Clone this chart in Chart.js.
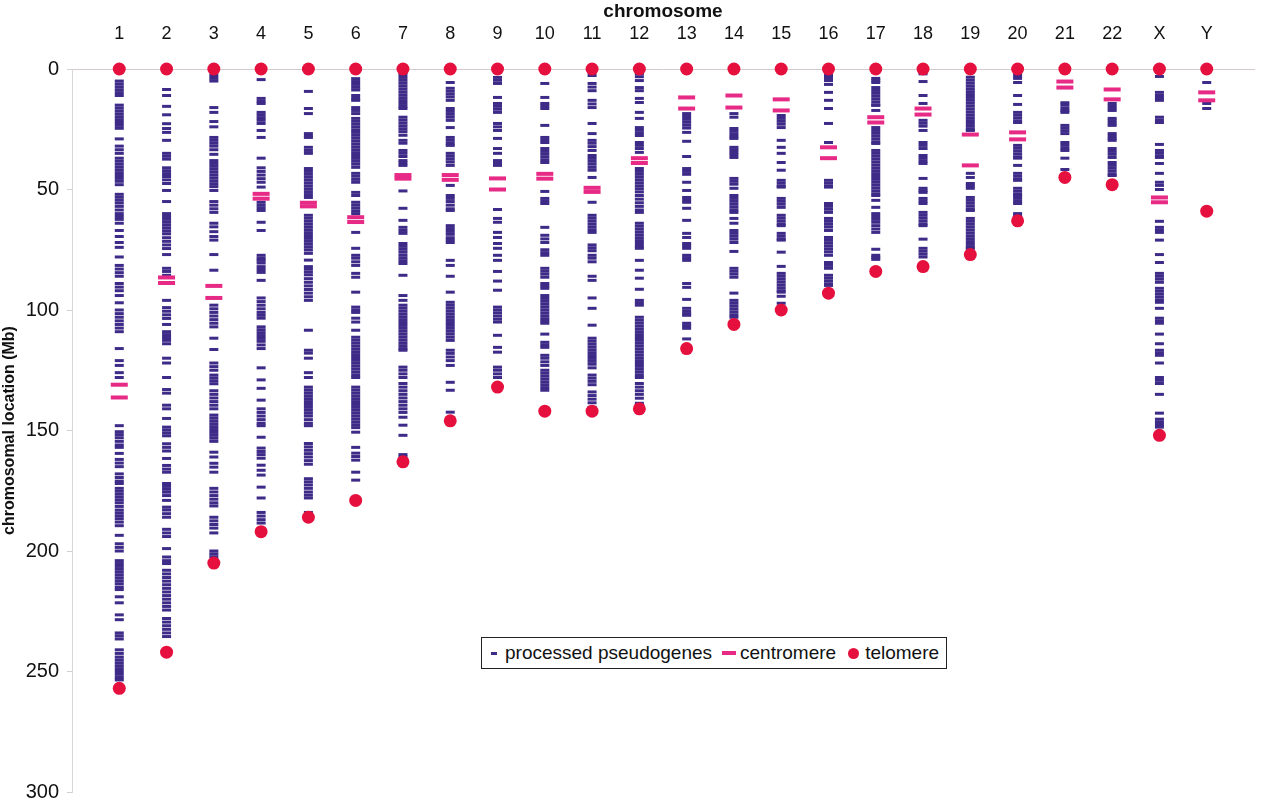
<!DOCTYPE html>
<html>
<head>
<meta charset="utf-8">
<script src="https://cdn.jsdelivr.net/npm/chart.js@4.4.1/dist/chart.umd.min.js"></script>
<style>
  html, body { margin: 0; padding: 0; background: #fff; }
  #wrap { position: relative; width: 1280px; height: 800px; }
  #legend {
    position: absolute; left: 481px; top: 637px; width: 466px; height: 32px;
    border: 1px solid #222; background: #fff; box-sizing: border-box;
    font-family: "Liberation Sans", Arial, sans-serif; font-size: 19px; color: #111;
    display: flex; align-items: center; padding-left: 9px; white-space: nowrap;
  }
  #legend .item { display: flex; align-items: center; }
  .m-pseudo { width: 6px; height: 3px; background: #3d2b87; margin-right: 8px; }
  .m-centro { width: 14px; height: 4px; background: #e62a85; margin: 0 4px 0 10px; }
  .m-telo { width: 11px; height: 11px; border-radius: 50%; background: #e5103d; margin: 0 6px 0 12px; }
</style>
</head>
<body>
<div id="wrap">
  <canvas id="chart" width="1280" height="800"></canvas>
  <div id="legend">
    <span class="item"><span class="m-pseudo"></span>processed pseudogenes</span>
    <span class="item"><span class="m-centro"></span>centromere</span>
    <span class="item"><span class="m-telo"></span>telomere</span>
  </div>
</div>
<script>
// chromosome labels along the top axis
const chromosomes = ['1', '2', '3', '4', '5', '6', '7', '8', '9', '10', '11', '12',
    '13', '14', '15', '16', '17', '18', '19', '20', '21', '22', 'X', 'Y'];

// chromosome ends (Mb), telomere drawn at 0 and here
const chrEnds = [257, 242, 205, 192, 186, 179, 163, 146, 132, 142, 142, 141,
    116, 106, 100, 93, 84, 82, 77, 63, 45, 48, 152, 59];

// centromere bars (two per chromosome)
const centroUpper = [131, 86.5, 90, 51.8, 55.5, 61.5, 44, 44, 45.4, 43.5, 49.3, 37,
    11.8, 11, 12.6, 32.5, 20, 16.4, 27.2, 26.3, 5.2, 8.5, 53.3, 9.7];
const centroLower = [136.3, 88.8, 95, 53.8, 57, 63.5, 45.5, 46, 50, 45.5, 51, 39,
    16.4, 16, 17.2, 37, 22.2, 18.9, 40, 29.2, 7.7, 12.6, 55.3, 13];

// processed pseudogene positions (Mb)
const pg1 = [5, 6.2, 7.4, 8.6, 9.8, 11, 15, 16.2, 17.4, 18.6, 19.8, 21, 22.2, 23.4, 24.6, 29, 32, 33.5, 35,
    37, 38.2, 39.4, 40.6, 41.8, 43, 44.2, 45.4, 46.6, 48, 52, 53.2, 54.4, 55.6, 57, 58.5, 60, 61.2, 62.4, 64,
    67, 69.5, 72, 74, 78, 81.5, 83, 84.5, 86, 89, 90.5, 92, 94, 97, 100, 101.5, 103, 104.5, 106, 107.5, 109,
    116, 121, 123, 126, 128, 148, 150.5, 151.7, 153, 154.5, 156, 157, 159.5, 162, 163.5, 165, 168, 169.5,
    171, 172, 174, 175.2, 176.4, 177.6, 178.8, 180, 181.5, 183, 184.2, 185.4, 186.6, 188, 189.5, 193.5, 197,
    198.5, 200, 204, 205.2, 206.4, 207.6, 208.8, 210, 211.2, 212.4, 213.6, 215, 216, 219, 221.5, 226.5,
    228.5, 234, 235.2, 236.5, 241, 242.5, 244, 245.2, 246.4, 247.6, 248.8, 250, 251.2, 252.5, 253.5];
const pg2 = [8.5, 11, 15.5, 19, 22.7, 24.7, 26.3, 29.6, 35, 36.2, 37.4, 41, 42.2, 43.4, 44.6, 46, 47.5, 50.4,
    55, 60, 61.2, 62.4, 63.6, 64.8, 66, 67.2, 68.4, 70, 71.5, 73, 74.5, 77, 82.7, 84, 85.6, 96, 99, 100.5, 102,
    103.5, 106, 109, 110.2, 111.4, 112.6, 114, 120, 122, 128, 133, 134.5, 139.5, 141, 145, 148.6, 149.8, 151,
    152.2, 155.5, 157, 158.5, 161.6, 164.5, 166, 167.3, 172, 173.2, 174.4, 175.6, 177, 179, 181.8, 183, 184.5,
    186, 191, 192.5, 194, 199, 202.5, 204, 205.2, 208, 209.5, 211, 212.5, 214, 215.5, 217, 218.5, 220, 221.5,
    223, 224.5, 228, 229.5, 231, 232.5, 234, 235.5];
const pg3 = [2.7, 3.9, 5, 16, 18, 21.8, 24, 28.4, 29.6, 30.8, 32, 33.5, 35.4, 38, 39.2, 40.4, 41.6, 42.8, 44,
    45.2, 46.4, 47.6, 48.8, 50.4, 55, 56.5, 58, 59.5, 64, 65.5, 67.5, 69.5, 71, 77, 83.5, 98, 99.5, 101, 102.5,
    104, 105.5, 107, 111.7, 116.4, 122, 123.5, 125, 127, 128.2, 129.4, 130.6, 133.5, 135, 136.5, 138, 139.5,
    141, 143.6, 144.8, 146, 147.2, 148.4, 149.6, 150.8, 152, 153.2, 154.5, 159, 161, 163.6, 165.2, 167.3, 174,
    175.5, 177, 178.5, 180, 181.3, 186, 187.5, 189, 190.5, 192.5, 200, 201.2, 202.4];
const pg4 = [4.4, 12.2, 13.4, 14.3, 18, 19.1, 20.2, 21.3, 22.6, 25.5, 28.4, 37, 41, 42.5, 44, 45.5, 47, 49,
    55.3, 56.5, 57.6, 58.7, 63.6, 67, 77.3, 78.5, 79.4, 80.5, 82, 83.2, 84.4, 87.7, 95, 96.5, 98, 99.5, 101,
    102.2, 103.4, 107, 108.2, 109.4, 110.6, 111.8, 113, 114.5, 116, 124, 129, 132.5, 137.4, 141, 142.5, 144,
    145.5, 147, 148, 152.8, 157.3, 158.7, 160, 161.5, 164.4, 166.5, 168.5, 173.5, 178, 184, 185.5, 187, 188.4];
const pg5 = [9.3, 16.4, 18.5, 26.8, 27.8, 28.4, 32.5, 33.8, 35, 41.3, 42.5, 43.7, 44.9, 46.1, 47.3, 48.5, 49.7,
    50.9, 52.1, 53.3, 60.7, 61.9, 63.1, 64.3, 65.5, 66.7, 67.9, 69.1, 70.3, 71.5, 72.7, 73.9, 75.1, 76.5, 79.3,
    82, 83, 84.2, 85.4, 87, 88.5, 90, 91.5, 93, 94.5, 96, 108.4, 116.7, 117.9, 120, 126, 128, 132, 133.2, 134.4,
    135.6, 136.8, 138, 139.2, 140.4, 141.6, 142.8, 144, 145.5, 147, 148, 155.4, 156.8, 158.2, 159.6, 161,
    162.5, 164, 170, 171.3, 172.6, 174, 175.5, 176.8, 178, 184];
const pg6 = [4, 5.2, 6.4, 7.6, 8.7, 11, 12.2, 13, 16, 17.2, 18.5, 20.5, 21.7, 22.9, 24.1, 25.3, 26.3, 27.5,
    28.7, 29.9, 31.1, 32.3, 33.5, 34.7, 35.9, 37.1, 38.3, 39.5, 40.8, 43.3, 44.5, 45.8, 47, 51.2, 52.5, 55.3,
    56.5, 57.7, 58.9, 60, 67.8, 74.4, 77.3, 78.5, 80, 81.5, 84.8, 86.4, 92.6, 98.8, 100, 101, 103.4, 105, 108.4,
    111.3, 112.5, 113.7, 114.9, 116.1, 117.3, 118.5, 119.7, 120.9, 122.1, 123.3, 124.5, 125.7, 126.9, 128, 132,
    133.2, 134.4, 135.6, 136.8, 138, 139.2, 140.4, 141.6, 142.8, 144, 145.2, 146.4, 147.6, 148.8, 150.7, 157,
    159.4, 160.8, 162.3, 167.3, 170.6];
const pg7 = [2.3, 3.5, 4.7, 5.9, 7.1, 8.3, 9.5, 10.7, 11.9, 13.1, 14.3, 15.5, 16.4, 20, 21.2, 22.4, 23.6, 24.8,
    26, 27.5, 29.6, 30.8, 33.8, 35, 36.3, 38, 39, 40, 50.6, 57.8, 62.8, 65.7, 67, 68.2, 72.4, 73.6, 74.8, 76,
    77.3, 78.5, 79.6, 80.7, 85.6, 94, 96, 98, 99.2, 100.4, 101.6, 102.8, 104, 105.2, 106.4, 107.6, 108.8, 110,
    111.2, 112.4, 113.6, 114.8, 116, 116.7, 123.7, 125, 126.5, 128, 130.5, 132, 133.5, 135, 136.5, 138, 139.5,
    141, 142.5, 144.5, 147.8, 152, 160, 161];
const pg8 = [5.6, 8, 9.2, 10.4, 11.6, 13, 16.4, 17.6, 18.8, 20, 21.3, 24.3, 28.4, 29.6, 30.8, 31.7, 35, 36.2,
    37.4, 38.6, 40, 48.3, 52.5, 53.7, 55, 56.5, 58, 58.7, 65, 66.2, 67.4, 68.6, 70, 71, 72, 79.4, 81.5, 86,
    92.6, 96.8, 98, 99.2, 100.4, 101.6, 102.8, 104, 105.2, 106.4, 107.6, 108.8, 110, 111.3, 112.6, 116.7, 118,
    119.5, 121, 123, 130, 133.3, 142.4];
const pg9 = [3.5, 4.7, 6, 11.8, 14.3, 15.5, 16.7, 18, 22.6, 24, 25.5, 28.8, 33, 35, 38, 39, 40, 58.3, 62, 63.6,
    67.8, 69.9, 72.4, 74.4, 77.3, 79.4, 84, 88, 91.8, 98.8, 100, 101.2, 102.5, 103.8, 105, 110.5, 115.5, 117.5,
    123.7, 125, 126.5, 128];
const pg10 = [6, 11.8, 14.3, 15.3, 16.4, 23.4, 28.4, 29.5, 30.5, 33, 34.2, 35.4, 36.6, 37.8, 38.8, 50.8, 53.7,
    54.8, 55.8, 65.7, 69, 70.5, 72, 75, 76.2, 77.3, 82.7, 83.9, 85.1, 86.4, 89, 90, 91, 94, 95.2, 96.4, 97.6,
    98.8, 100, 101.2, 102.4, 103.6, 104.6, 105.5, 110, 113.4, 114.5, 115.5, 118.8, 120, 121.5, 123, 125, 126.2,
    127.4, 128.6, 129.8, 131, 132.2, 133.3];
const pg11 = [2.7, 6, 7.5, 9, 13, 14.5, 16, 22.6, 26.8, 29.6, 30.8, 32.2, 33.8, 35.9, 37.1, 38.3, 39.5, 40.8,
    42, 45, 55.3, 60.7, 61.9, 63.1, 64.3, 65.5, 66.7, 67.8, 73, 74.2, 75.4, 77.3, 78.5, 80, 86, 87.7, 95, 99.3,
    106.3, 111.7, 112.9, 114.1, 115.3, 116.5, 117.7, 118.9, 120.1, 121.3, 122.5, 124, 127, 128.3, 129.6, 131,
    134, 135.5, 137, 138.5, 140.4];
const pg12 = [2, 3.2, 4.8, 7.7, 9, 12.2, 13.9, 18, 20.5, 24.3, 25.4, 26.5, 27.6, 30.5, 31.7, 33, 34.6, 41.3,
    42.5, 43.7, 44.9, 46.1, 47.3, 48.5, 49.7, 51, 52.5, 54, 55.5, 57, 58.5, 59.5, 64, 65.2, 66.4, 67.6, 68.8,
    70, 71.2, 72.4, 73.6, 74.4, 79.4, 83.5, 86.8, 91.4, 96, 97, 98, 103, 104.2, 105.4, 106.6, 107.8, 109,
    110.2, 111.4, 112.6, 113.8, 115, 116.2, 117.4, 118.6, 119.8, 121, 122.2, 123.4, 124.6, 125.8, 127, 128,
    130.5, 132, 133.5, 135, 136.6, 138.7];
const pg13 = [18.5, 19.7, 20.9, 22.1, 23.3, 24.5, 26.3, 30, 36.3, 41.3, 42.5, 43.7, 47, 50.4, 53.3, 54.3, 55.3,
    57.8, 62.8, 68.2, 69.9, 72.4, 73.4, 74.4, 77.3, 78.3, 79.4, 89, 90.6, 95.6, 99.3, 100.5, 101.5, 102.2,
    105.5, 106.5, 107.6, 112];
const pg14 = [18.5, 20, 24.7, 25.8, 26.9, 28, 28.8, 32.5, 33.5, 34.5, 35.5, 36.7, 45.4, 46.6, 47.8, 49.5, 52.5,
    53.7, 54.9, 56.1, 57.3, 58.5, 59.5, 62, 64, 67, 68.2, 69.4, 70.6, 72, 75.7, 82.7, 83.9, 85.1, 86.4, 93, 96,
    97.2, 98.4, 99.6, 100.8, 102, 103];
const pg15 = [19.3, 20.5, 21.7, 22.9, 24.3, 29.6, 32.5, 35, 38.8, 42, 46.2, 47.4, 48.6, 49, 53.7, 54.9, 56.1,
    57.4, 60.7, 61.9, 63.1, 64.3, 65, 68.2, 69.4, 70.6, 71, 76, 81.9, 84.8, 86, 87.2, 88.4, 89.6, 90.8, 92,
    92.6, 94.3, 97.2];
const pg16 = [2.7, 3.8, 4.8, 6.4, 9.7, 13, 16.4, 22.6, 30.5, 46.2, 47.4, 48.6, 49, 55.8, 57, 58.2, 59.5, 62,
    63.2, 64.4, 65.6, 67, 69.9, 71.1, 72.3, 73.5, 74.7, 75.9, 77.3, 80.3, 81.5, 82.7, 85.6, 86.8, 88, 89.2, 89.8];
const pg17 = [3.9, 4.8, 5.6, 7.7, 8.9, 10.1, 11.3, 12.5, 13.7, 14.9, 15.1, 17.2, 24.3, 25.5, 26.7, 27.9, 29.1,
    30.3, 30.9, 33.8, 35, 36.2, 37.4, 38.6, 39.8, 41, 42.2, 43.4, 44.6, 45.8, 47, 48.2, 49.4, 50.6, 51.8, 52.5,
    54.5, 57.4, 60, 61.2, 62.4, 63.6, 65, 66.4, 67.8, 74.8, 77.3, 78.2, 79];
const pg18 = [2, 5.2, 11, 14.3, 21.3, 22.5, 23.7, 25.5, 30.5, 31.7, 33, 35.9, 37.1, 38.3, 39.2, 45.4, 49.5, 50.5,
    51.2, 53.7, 54.8, 55.8, 59.5, 60.7, 61.9, 63.1, 64.3, 65, 70.6, 74.4, 75.6, 76.8, 78];
const pg19 = [3.4, 4.6, 5.8, 7, 8.2, 9.4, 10.6, 11.8, 13, 14.2, 15.4, 16.6, 17.8, 19, 20.2, 21.4, 22.6, 23.8,
    25, 25.5, 43.3, 45, 47.5, 48.5, 49.5, 53.3, 54.5, 55.7, 56.9, 58.1, 58.7, 62, 63.2, 64.4, 65.6, 66.8, 68,
    69.2, 70.4, 71.6, 72.8, 74, 74.4];
const pg20 = [2.7, 3.9, 5.6, 11, 14.7, 18, 19.2, 20.4, 21.6, 22.2, 31.7, 32.9, 34.1, 35.3, 36.5, 37, 40, 43.3,
    44.5, 45.7, 46.2, 49.5, 50.7, 51.9, 52.5, 53.7, 54.9, 55.8, 60, 61];
const pg21 = [14, 15, 16.2, 17.2, 18, 23.4, 24.5, 25.6, 26.8, 30.5, 31.7, 32.9, 33.8, 37, 41.7];
const pg22 = [14.3, 15.3, 16.3, 17.2, 20.5, 21.5, 22.5, 23.4, 26.8, 27.8, 28.8, 29.6, 33, 34.2, 35.4, 36.7,
    38.8, 40, 41.2, 42.4, 43.6, 44.2];
const pgX = [3.1, 9.7, 11, 12.2, 13, 20, 21.2, 22.2, 31.3, 33.8, 35, 36.2, 36.7, 39.2, 43.3, 47, 48.3, 50, 63.2,
    65.7, 66.8, 67.8, 71, 77, 80.3, 84.8, 86, 87.2, 88.5, 91, 92.2, 93.4, 94.6, 95.8, 96.8, 99.3, 103.4, 104.5,
    105.5, 110, 114, 116.7, 117.8, 118.8, 122, 128, 129.2, 130.5, 135, 142.8, 145.3, 146.4, 147.5, 148.6];
const pgY = [5.6, 14.3, 16.4];

const pseudogenes = [pg1, pg2, pg3, pg4, pg5, pg6, pg7, pg8, pg9, pg10, pg11, pg12,
    pg13, pg14, pg15, pg16, pg17, pg18, pg19, pg20, pg21, pg22, pgX, pgY];

const pseudoPoints = pseudogenes.flatMap((list, i) => list.map(y => ({ x: i + 1, y })));
const centroPoints = chromosomes.flatMap((c, i) => [
    { x: i + 1, y: centroUpper[i] },
    { x: i + 1, y: centroLower[i] }
]);
const teloPoints = chromosomes.flatMap((c, i) => [
    { x: i + 1, y: 0 },
    { x: i + 1, y: chrEnds[i] }
]);

const font = 'Liberation Sans, Arial, sans-serif';

new Chart(document.getElementById('chart'), {
    type: 'scatter',
    data: {
        datasets: [
            {
                label: 'telomere', data: teloPoints, pointStyle: 'circle', pointRadius: 6.5,
                backgroundColor: '#e5103d', borderWidth: 0, clip: false
            },
            {
                label: 'centromere', data: centroPoints, pointStyle: 'line', pointRadius: 8.5,
                borderColor: '#e62a85', borderWidth: 4, clip: false
            },
            {
                label: 'processed pseudogenes', data: pseudoPoints, pointStyle: 'line', pointRadius: 4.5,
                borderColor: '#3d2b87', borderWidth: 3, clip: false
            }
        ]
    },
    options: {
        responsive: false,
        animation: false,
        events: [],
        layout: { autoPadding: false, padding: { left: 0, top: 0, right: 26, bottom: 8 } },
        plugins: { legend: { display: false }, tooltip: { enabled: false } },
        scales: {
            x: {
                type: 'linear',
                position: 'top',
                min: 0,
                max: 25,
                afterBuildTicks: scale => { scale.ticks = chromosomes.map((c, i) => ({ value: i + 1 })); },
                afterFit: scale => {
                    scale.height = 69;
                    scale.paddingLeft = 0;
                    scale.paddingRight = 0;
                },
                ticks: {
                    autoSkip: false,
                    maxRotation: 0,
                    padding: 16,
                    color: '#111',
                    font: { family: font, size: 18 },
                    callback: v => chromosomes[v - 1]
                },
                grid: { display: false },
                border: { display: true, color: '#d6c9cd' },
                title: {
                    display: true,
                    text: 'chromosome',
                    color: '#111',
                    font: { family: font, size: 19, weight: 'bold' },
                    padding: { top: 0, bottom: 0 }
                }
            },
            y: {
                reverse: true,
                min: 0,
                max: 300,
                afterFit: scale => {
                    scale.width = 72;
                    scale.paddingTop = 0;
                    scale.paddingBottom = 0;
                },
                ticks: {
                    stepSize: 50,
                    padding: 8,
                    color: '#111',
                    font: { family: font, size: 20 }
                },
                grid: { drawOnChartArea: false, tickLength: 5, color: '#d0d0d0' },
                border: { display: true, color: '#d6d6d6' },
                title: {
                    display: true,
                    text: 'chromosomal location (Mb)',
                    color: '#111',
                    font: { family: font, size: 16, weight: 'bold' },
                    padding: { top: 0, bottom: 0 }
                }
            }
        }
    }
});
</script>
</body>
</html>
